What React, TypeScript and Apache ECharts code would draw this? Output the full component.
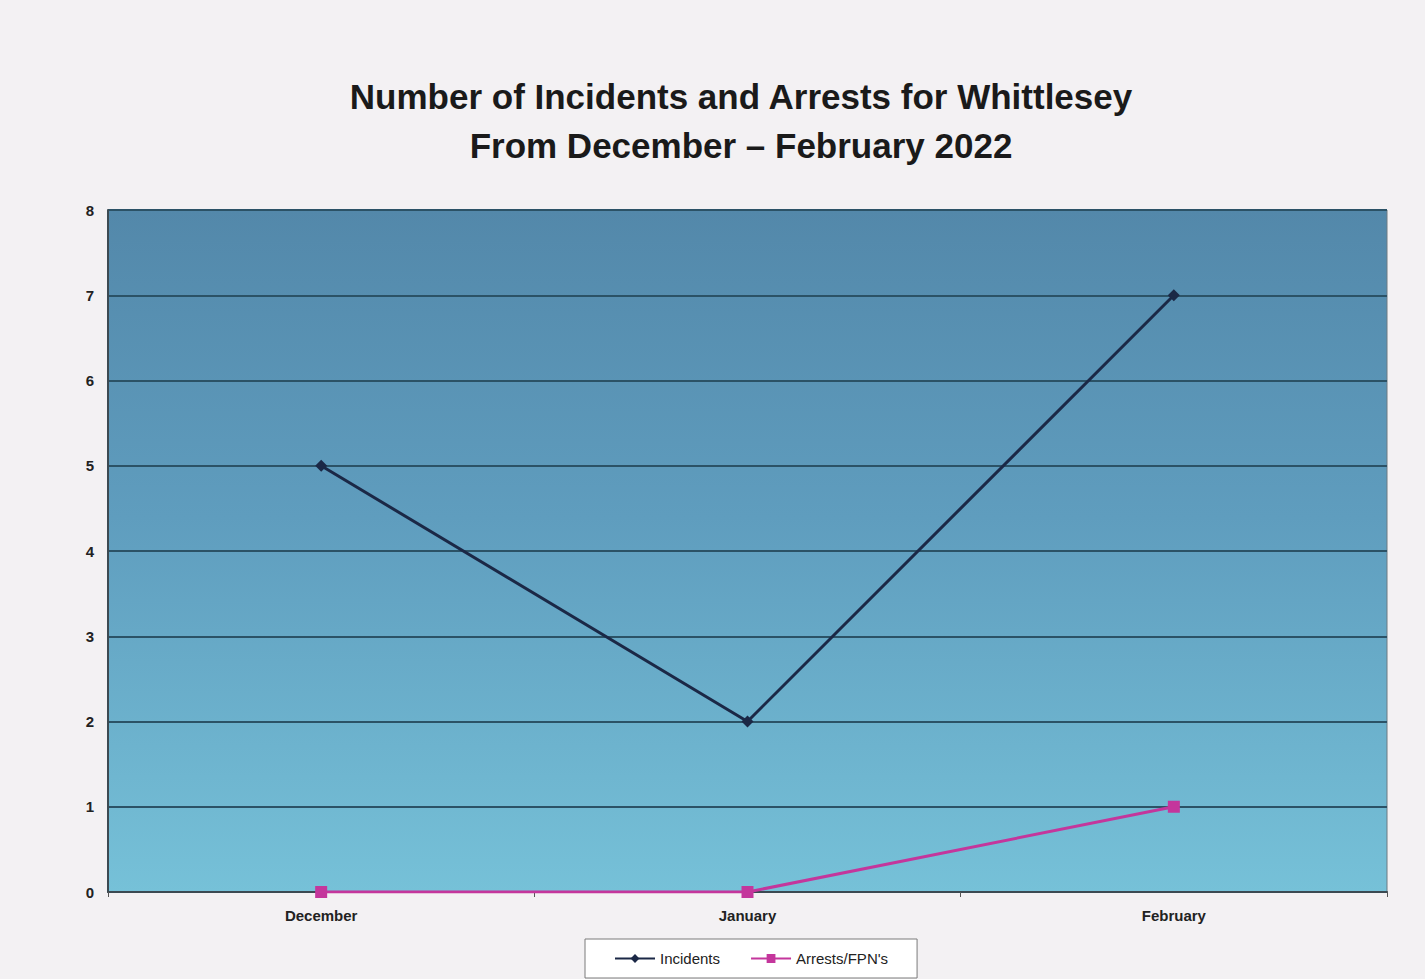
import React, { useEffect, useRef } from "react";
import * as echarts from "echarts";

const categories = ["December", "January", "February"];
const incidents = [5, 2, 7];
const arrests = [0, 0, 1];
const yTicks = [0, 1, 2, 3, 4, 5, 6, 7, 8];

export default function App() {
  const ref = useRef<HTMLDivElement>(null);
  useEffect(() => {
    if (!ref.current) return;
    const chart = echarts.init(ref.current, undefined, { renderer: "svg" });
    chart.setOption({
      animation: false,
      backgroundColor: "#f3f1f3",
      title: {
        text: "Number of Incidents and Arrests for Whittlesey\nFrom December \u2013 February 2022",
        left: 736,
        top: 67,
        textAlign: "center",
        textStyle: {
          fontFamily: "'Liberation Sans', Arial, sans-serif",
          fontWeight: "bold",
          fontSize: 35,
          lineHeight: 49,
          color: "#1a1a1a",
        },
      },
      legend: {
        bottom: 1,
        left: 585,
        itemGap: 30,
        itemWidth: 40,
        itemHeight: 11,
        padding: [12, 29, 12, 29],
        backgroundColor: "#ffffff",
        borderColor: "#7a7a7a",
        borderWidth: 1,
        borderRadius: 0,
        textStyle: {
          fontFamily: "'Liberation Sans', Arial, sans-serif",
          fontSize: 15,
          color: "#222",
        },
        data: ["Incidents", "Arrests/FPN's"],
      },
      grid: {
        left: 108,
        right: 38,
        top: 210,
        bottom: 87,
        show: true,
        borderColor: "#6d7a82",
        borderWidth: 1,
        backgroundColor: {
          type: "linear",
          x: 0,
          y: 0,
          x2: 0,
          y2: 1,
          colorStops: [
            { offset: 0, color: "#5388aa" },
            { offset: 0.45, color: "#5f9dbe" },
            { offset: 1, color: "#76c1d8" },
          ],
        },
      },
      xAxis: {
        type: "category",
        data: categories,
        boundaryGap: true,
        axisLine: { lineStyle: { color: "#3c4a52", width: 2 } },
        axisTick: { show: true, length: 5, lineStyle: { color: "#555" } },
        axisLabel: {
          margin: 16,
          fontFamily: "'Liberation Sans', Arial, sans-serif",
          fontWeight: "bold",
          fontSize: 15,
          color: "#222",
        },
      },
      yAxis: {
        type: "value",
        min: yTicks[0],
        max: yTicks[yTicks.length - 1],
        interval: 1,
        axisLine: { show: true, lineStyle: { color: "#3c4a52", width: 2 } },
        axisTick: { show: false },
        axisLabel: {
          margin: 14,
          fontFamily: "'Liberation Sans', Arial, sans-serif",
          fontWeight: "bold",
          fontSize: 15,
          color: "#222",
        },
        splitLine: { lineStyle: { color: "#2b5266", width: 2 } },
      },
      series: [
        {
          name: "Incidents",
          type: "line",
          data: incidents,
          symbol: "diamond",
          symbolSize: 12,
          lineStyle: { color: "#1b2846", width: 3 },
          itemStyle: { color: "#1b2846" },
        },
        {
          name: "Arrests/FPN's",
          type: "line",
          data: arrests,
          symbol: "rect",
          symbolSize: 12,
          lineStyle: { color: "#c4369c", width: 3 },
          itemStyle: { color: "#c4369c" },
          z: 3,
        },
      ],
    });
    return () => chart.dispose();
  }, []);
  return (
    <div
      ref={ref}
      style={{ position: "absolute", left: 0, top: 0, width: 1425, height: 979 }}
    />
  );
}
